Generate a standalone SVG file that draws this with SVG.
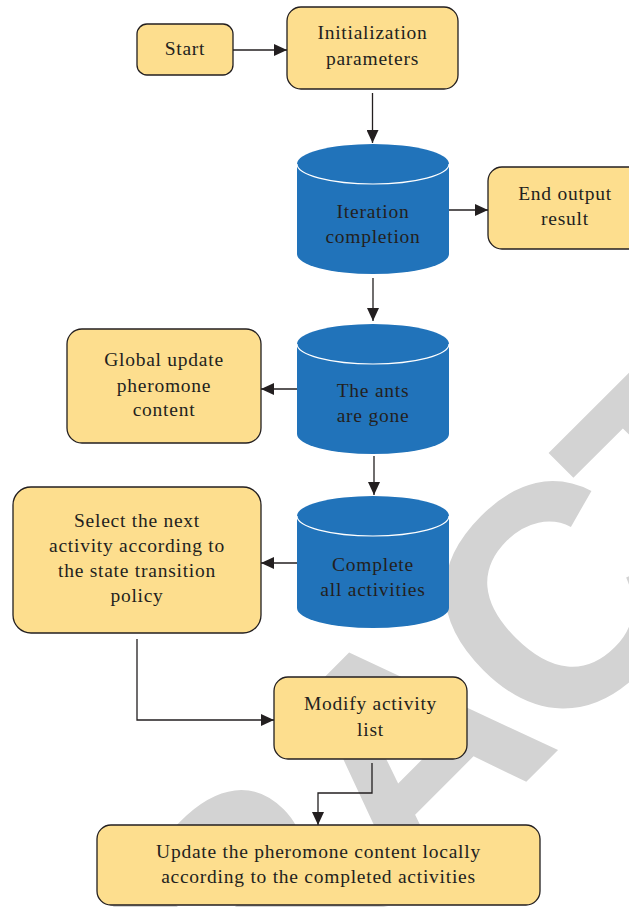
<svg xmlns="http://www.w3.org/2000/svg" width="629" height="907" viewBox="0 0 629 907">
<style>
.box{fill:#FDDE8E;stroke:#231F20;stroke-width:1.3}
.cyl{fill:#2173BA}
.rim{fill:none;stroke:#FFFFFF;stroke-width:1.2}
.t{font-family:"Liberation Serif","Times New Roman",serif;font-size:19.5px;fill:#231F20;text-anchor:middle;letter-spacing:0.75px}
.c{fill:none;stroke:#231F20;stroke-width:1.3}
.wm{font-family:"Liberation Sans",Arial,sans-serif;font-weight:bold;font-size:315px;fill:#D3D3D3}
</style>
<defs>
<marker id="ah" markerUnits="userSpaceOnUse" markerWidth="13" markerHeight="12" refX="13" refY="6" orient="auto">
<path d="M0,0 L13,6 L0,12 Z" fill="#231F20"/>
</marker>
</defs>
<rect width="629" height="907" fill="#FFFFFF"/>
<g id="watermark">
<text class="wm" transform="rotate(-45)" x="-1211 -984 -774 -582 -355 -145 64 256 466" y="925">RETRACTED</text>
</g>
<g id="connectors">
<path class="c" d="M233,50 H287" marker-end="url(#ah)"/>
<path class="c" d="M372.5,93 V143" marker-end="url(#ah)"/>
<path class="c" d="M449,210 H488" marker-end="url(#ah)"/>
<path class="c" d="M373,278 V321" marker-end="url(#ah)"/>
<path class="c" d="M297,389 H261" marker-end="url(#ah)"/>
<path class="c" d="M374,456 V495" marker-end="url(#ah)"/>
<path class="c" d="M297,563 H261" marker-end="url(#ah)"/>
<path class="c" d="M137,639 V720 H274" marker-end="url(#ah)"/>
<path class="c" d="M372,763 V793 H318 V825" marker-end="url(#ah)"/>
</g>
<g id="start">
<rect class="box" x="137" y="24" width="96" height="51" rx="10"/>
<text class="t" x="185" y="55">Start</text>
</g>
<g id="init">
<rect class="box" x="287" y="7" width="171" height="82" rx="14"/>
<text class="t" x="372.5" y="39">Initialization</text>
<text class="t" x="372.5" y="65">parameters</text>
</g>
<g id="iteration">
<path class="cyl" d="M297,164 A76,20 0 0 1 449,164 V254 A76,20 0 0 1 297,254 Z"/>
<path class="rim" d="M297,164 A76,20 0 0 0 449,164"/>
<text class="t" x="373" y="218">Iteration</text>
<text class="t" x="373" y="243">completion</text>
</g>
<g id="end">
<rect class="box" x="488" y="167" width="160" height="82" rx="14"/>
<text class="t" x="565" y="200">End output</text>
<text class="t" x="565" y="225">result</text>
</g>
<g id="ants">
<path class="cyl" d="M297,344 A76,20 0 0 1 449,344 V434 A76,20 0 0 1 297,434 Z"/>
<path class="rim" d="M297,344 A76,20 0 0 0 449,344"/>
<text class="t" x="373" y="397">The ants</text>
<text class="t" x="373" y="422">are gone</text>
</g>
<g id="global">
<rect class="box" x="67" y="329" width="194" height="114" rx="15"/>
<text class="t" x="164" y="366">Global update</text>
<text class="t" x="164" y="392">pheromone</text>
<text class="t" x="164" y="416">content</text>
</g>
<g id="complete">
<path class="cyl" d="M297,516 A76,20 0 0 1 449,516 V608 A76,20 0 0 1 297,608 Z"/>
<path class="rim" d="M297,516 A76,20 0 0 0 449,516"/>
<text class="t" x="373" y="571">Complete</text>
<text class="t" x="373" y="596">all activities</text>
</g>
<g id="select">
<rect class="box" x="13" y="487" width="248" height="146" rx="18"/>
<text class="t" x="137" y="527">Select the next</text>
<text class="t" x="137" y="552">activity according to</text>
<text class="t" x="137" y="577">the state transition</text>
<text class="t" x="137" y="602">policy</text>
</g>
<g id="modify">
<rect class="box" x="274" y="677" width="193" height="82" rx="14"/>
<text class="t" x="370.5" y="710">Modify activity</text>
<text class="t" x="370.5" y="736">list</text>
</g>
<g id="update">
<rect class="box" x="97" y="825" width="443" height="80" rx="14"/>
<text class="t" x="318.5" y="858">Update the pheromone content locally</text>
<text class="t" x="318.5" y="883">according to the completed activities</text>
</g>
</svg>
